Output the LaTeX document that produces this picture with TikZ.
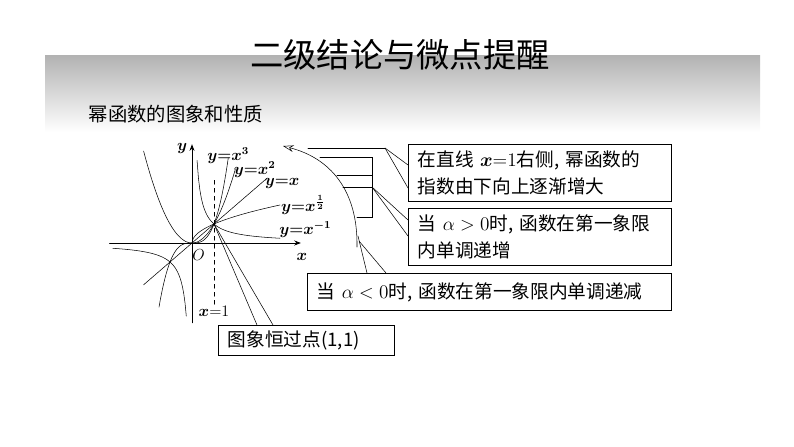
\documentclass[tikz,border=0pt]{standalone}
\usepackage{fontspec}
\usepackage{amsmath}
\setmainfont{Liberation Serif}
\newfontfamily\cjk{Noto Sans CJK SC}
\usetikzlibrary{arrows.meta}
\tikzset{
  notebox/.style={draw, thick, fill=white, inner xsep=7pt, inner ysep=3pt, align=left, font=\cjk\fontsize{14}{20}\selectfont},
  curvelbl/.style={font=\fontsize{12}{12}\selectfont, inner sep=0pt},
  pointer/.style={thin}
}
\begin{document}
\begin{tikzpicture}[x=0.75pt, y=-0.75pt, line cap=round]
	\useasboundingbox (0,0) rectangle (794,447);
	\shade[top color=black!30, bottom color=white] (45,55) rectangle (760,132);
	\node (title) at (400,55) {\cjk\fontsize{25}{25}\selectfont 二级结论与微点提醒};
	\node[anchor=west] (sub) at (84,114) {\cjk\fontsize{14.5}{14.5}\selectfont 幂函数的图象和性质};
	
	% graph
	\begin{scope}[shift={(192,243)}, x=16.5pt, y=14.25pt, semithick]
		\draw [->, >={Stealth[length=5pt]}] (-3.75,0) -- (4.95,0) coordinate (xend);
		\draw [->, >={Stealth[length=5pt]}] (0,-4.2) -- (0,5.2) coordinate (yend);
		\draw [dashed, thin] (1,3.3) -- (1,-3.3);
		\draw [domain=-1.5:1.65, samples=60, thin] plot (\x, {\x*\x*\x});
		\draw [domain=-2.2:1.97, samples=60, thin] plot (\x, {\x*\x});
		\draw [domain=-2.2:3.4, thin] plot (\x, \x);
		\draw [domain=0:4, samples=80, thin] plot (\x, {sqrt(\x)});
		\draw [domain=0.23:4, samples=60, thin] plot (\x, {1/\x});
		\draw [domain=-3.6:-0.26, samples=60, thin] plot (\x, {1/\x});
		\coordinate (one) at (1,1);
		\node [curvelbl] (l3) at (1.65,4.6) {$\boldsymbol{y{=}x^{3}}$};
		\node [curvelbl] (l2) at (2.85,3.85) {$\boldsymbol{y{=}x^{2}}$};
		\node [curvelbl] (l1) at (4.1,3.15) {$\boldsymbol{y{=}x}$};
		\node [curvelbl] (lh) at (5.05,2.0) {$\boldsymbol{y{=}x^{\frac{1}{2}}}$};
		\node [curvelbl] (lm) at (5.15,0.7) {$\boldsymbol{y{=}x^{-1}}$};
		\node [curvelbl] (lx) at (5.0,-0.75) {$\boldsymbol{x}$};
		\node [curvelbl] (ly) at (-0.45,5.0) {$\boldsymbol{y}$};
		\node [curvelbl] (lo) at (0.3,-0.65) {$O$};
		\node [curvelbl] (lone) at (1,-3.6) {$\boldsymbol{x}{=}1$};
	\end{scope}
	
	% curved arrow and bracket
	\draw [thin, -{Stealth[open, length=8pt, width=5pt]}] (357,247) .. controls (358,190) and (330,158) .. (283,146);
	\draw [pointer] (308,148) -- (385,148);
	\draw [pointer] (320,157) -- (372,157) -- (372,217) -- (357,217);
	\draw [pointer] (337,175) -- (372,175);
	\draw [pointer] (343,187) -- (372,187);
	
	% boxes
	\node [notebox, anchor=north west, text width=244*0.75pt, minimum height=57*0.75pt] (b1) at (408,144) {在直线 $\boldsymbol{x}{=}1$右侧, 幂函数的\\指数由下向上逐渐增大};
	\node [notebox, anchor=north west, text width=244*0.75pt, minimum height=57*0.75pt] (b2) at (408,208) {当 $\alpha>0$时, 函数在第一象限\\内单调递增};
	\node [notebox, anchor=north west, text width=345*0.75pt, minimum height=37*0.75pt] (b3) at (307,273) {当 $\alpha<0$时, 函数在第一象限内单调递减};
	\node [notebox, anchor=north west, text width=157*0.75pt, minimum height=30*0.75pt] (b4) at (218,325) {图象恒过点(1,1)};
	
	% pointers
	\draw [pointer] (385,148) -- (b1.west |- 0,165);
	\draw [pointer] (385,148) -- (b1.west |- 0,188);
	\draw [pointer] (372,187) -- (b2.west |- 0,220);
	\draw [pointer] (372,187) -- (b2.west |- 0,236);
	\draw [pointer] (358,236) -- (367,273);
	\draw [pointer] (359,241) -- (386,273);
	\draw [pointer] (one) -- (257,325);
	\draw [pointer] (one) -- (273,325);
\end{tikzpicture}
\end{document}
